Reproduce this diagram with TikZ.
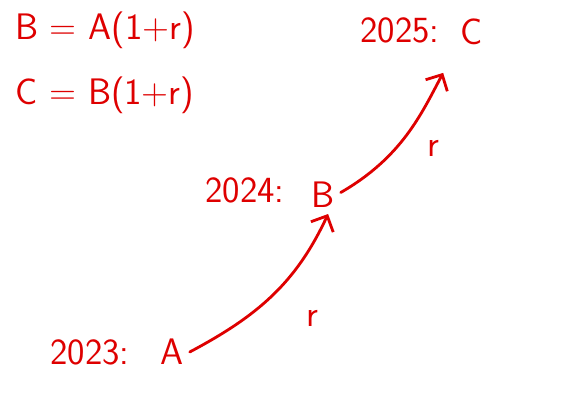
\documentclass[tikz,border=0pt]{standalone}
\usepackage{xcolor}
\usepackage{tikz}
\usetikzlibrary{arrows.meta}
\usetikzlibrary{calc}
\tikzset{>={Straight Barb[length=7pt,width=14pt]}}
\definecolor{ink}{RGB}{222,0,0}
\tikzstyle{handtext}=[ink,font=\sffamily\fontsize{21}{25}\selectfont]
\tikzstyle{growline}=[ink,line width=1.6pt,line cap=round]

\begin{document}
\begin{tikzpicture}[x=0.02cm,y=0.02cm]
            \useasboundingbox (0,0) rectangle (567,418);
            % formulas
            \node[handtext] (eqB) at (105,388) {B = A(1+r)};
            \node[handtext] (eqC) at (105,323) {C = B(1+r)};
            % years and values
            \node[handtext] (yr2023) at (90,66) {2023:};
            \node[handtext] (A) at (172,66) {A};
            \node[handtext] (yr2024) at (245,228) {2024:};
            \node[handtext] (B) at (323,223) {B};
            \node[handtext] (yr2025) at (400,388) {2025:};
            \node[handtext] (C) at (472,386) {C};
            % growth arrows
            \draw[->,growline] (A.east) to[out=28,in=245] (B.-75);
            \draw[->,growline,shorten >=14pt] (B.8) to[out=30,in=242] (C.south west);
            \node[handtext] (rAB) at (312,100) {r};
            \node[handtext] (rBC) at (433,270) {r};
        \end{tikzpicture}
\end{document}
